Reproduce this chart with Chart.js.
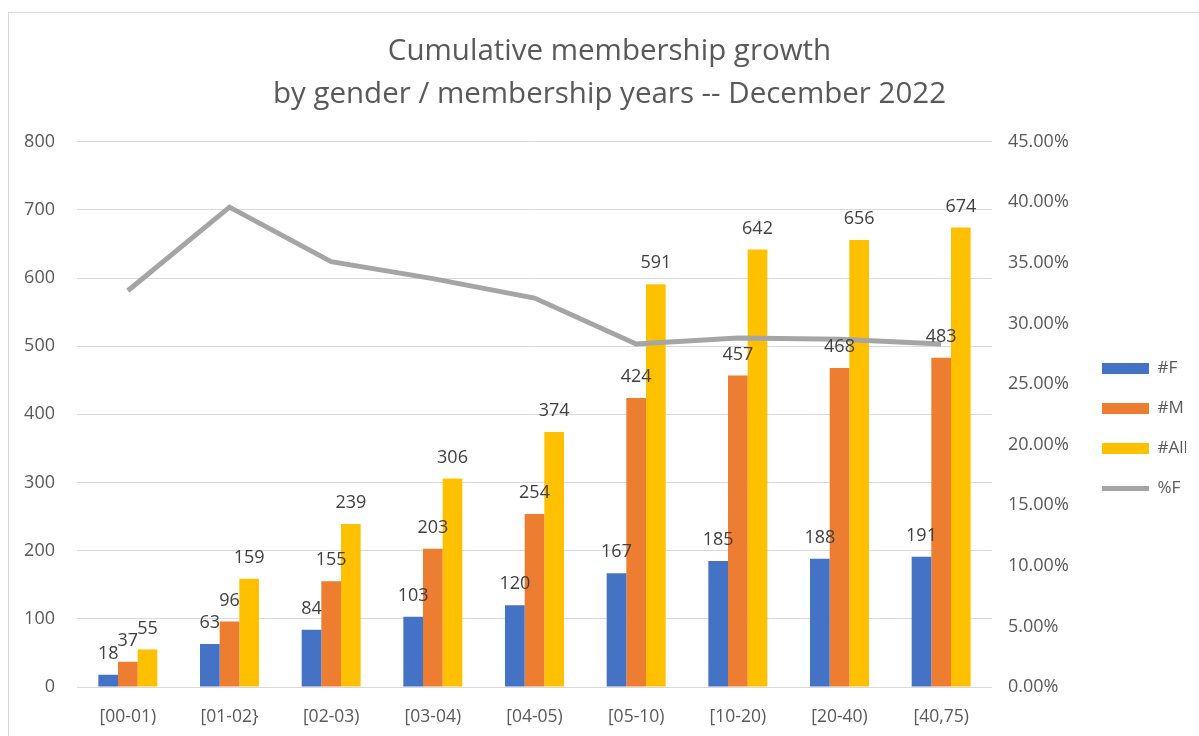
<!DOCTYPE html>
<html>
<head>
<meta charset="utf-8">
<script src="https://cdn.jsdelivr.net/npm/chart.js@4"></script>
<style>
  body { margin: 0; background: #fff; }
  #frame { position: absolute; left: 8px; top: 12px; width: 1200px; height: 730px; border: 1px solid #d9d9d9; box-sizing: border-box; }
  #membership-chart { position: absolute; left: 0; top: 0; }
</style>
</head>
<body>
<div id="frame"></div>
<canvas id="membership-chart" width="1199" height="736"></canvas>
<script>
// categories (membership years)
const categories = ["[00-01)", "[01-02}", "[02-03)", "[03-04)", "[04-05)", "[05-10)", "[10-20)", "[20-40)", "[40,75)"]

// series values
const female = [18, 63, 84, 103, 120, 167, 185, 188, 191]
const male = [37, 96, 155, 203, 254, 424, 457, 468, 483]
const all = [55, 159, 239, 306, 374, 591, 642, 656, 674]
const pctFemale = [0.327, 0.396, 0.351, 0.337, 0.321, 0.283, 0.288, 0.287, 0.283]

const txt = "#595959"
const font = "'Open Sans', 'Liberation Sans', sans-serif"

// value labels above the bars
const barLabels = {
  id: "barLabels",
  afterDatasetsDraw(chart) {
    const ctx = chart.ctx
    ctx.save()
    ctx.font = "18px " + font
    ctx.fillStyle = "#404040"
    ctx.textAlign = "center"
    ctx.textBaseline = "bottom"
    chart.data.datasets.forEach((ds, i) => {
      if (ds.type === "line") return
      chart.getDatasetMeta(i).data.forEach((bar, j) => {
        ctx.fillText(ds.data[j], bar.x, bar.y - 12)
      })
    })
    ctx.restore()
  }
}

// nudge legend and title, like the original
const nudge = {
  id: "nudge",
  afterLayout(chart) {
    chart.legend.top += 60
    chart.legend.bottom += 60
    chart.legend.left -= 13
    chart.legend.right -= 13
    chart.titleBlock.left += 10
    chart.titleBlock.right += 10
  }
}

new Chart(document.getElementById("membership-chart"), {
  type: "bar",
  data: {
    labels: categories,
    datasets: [
      { label: "#F", data: female, backgroundColor: "#4472C4", pointStyle: "rect", yAxisID: "y" },
      { label: "#M", data: male, backgroundColor: "#ED7D31", pointStyle: "rect", yAxisID: "y" },
      { label: "#All", data: all, backgroundColor: "#FFC000", pointStyle: "rect", yAxisID: "y" },
      { label: "%F", type: "line", data: pctFemale, borderColor: "#A5A5A5", backgroundColor: "#A5A5A5",
        borderWidth: 5, pointRadius: 0, pointStyle: "line", tension: 0, yAxisID: "y1", order: -1 }
    ]
  },
  options: {
    responsive: false,
    animation: false,
    datasets: { bar: { categoryPercentage: 0.58, barPercentage: 1 } },
    layout: { padding: { top: 10, right: 0, bottom: 9, left: 0 } },
    plugins: {
      title: {
        display: true,
        text: ["Cumulative membership growth", "by gender / membership years -- December 2022"],
        color: txt,
        font: { family: font, size: 29.5, weight: "normal", lineHeight: 1.47 },
        padding: { top: 20, bottom: 25 }
      },
      legend: {
        position: "right",
        maxWidth: 107,
        labels: {
          color: txt,
          font: { family: font, size: 17 },
          usePointStyle: true,
          pointStyleWidth: 47,
          boxHeight: 11,
          padding: 23,
          sort: (a, b) => a.datasetIndex - b.datasetIndex
        }
      },
      tooltip: { enabled: false }
    },
    scales: {
      x: {
        grid: { display: false },
        border: { display: false },
        ticks: { color: txt, font: { family: font, size: 17.5 }, padding: 12 },
        afterFit: s => { s.height = 40 }
      },
      y: {
        min: 0, max: 800,
        ticks: { stepSize: 100, color: txt, font: { family: font, size: 18 }, padding: 22 },
        grid: { color: "#d9d9d9", drawTicks: false },
        border: { display: false },
        afterFit: s => { s.width = 77 }
      },
      y1: {
        position: "right",
        min: 0, max: 0.45,
        ticks: { stepSize: 0.05, color: txt, font: { family: font, size: 18 }, padding: 16,
          callback: v => (v * 100).toFixed(2) + "%" },
        grid: { display: false, drawTicks: false },
        border: { display: false },
        afterFit: s => { s.width = 100 }
      }
    }
  },
  plugins: [barLabels, nudge]
});
</script>
</body>
</html>
